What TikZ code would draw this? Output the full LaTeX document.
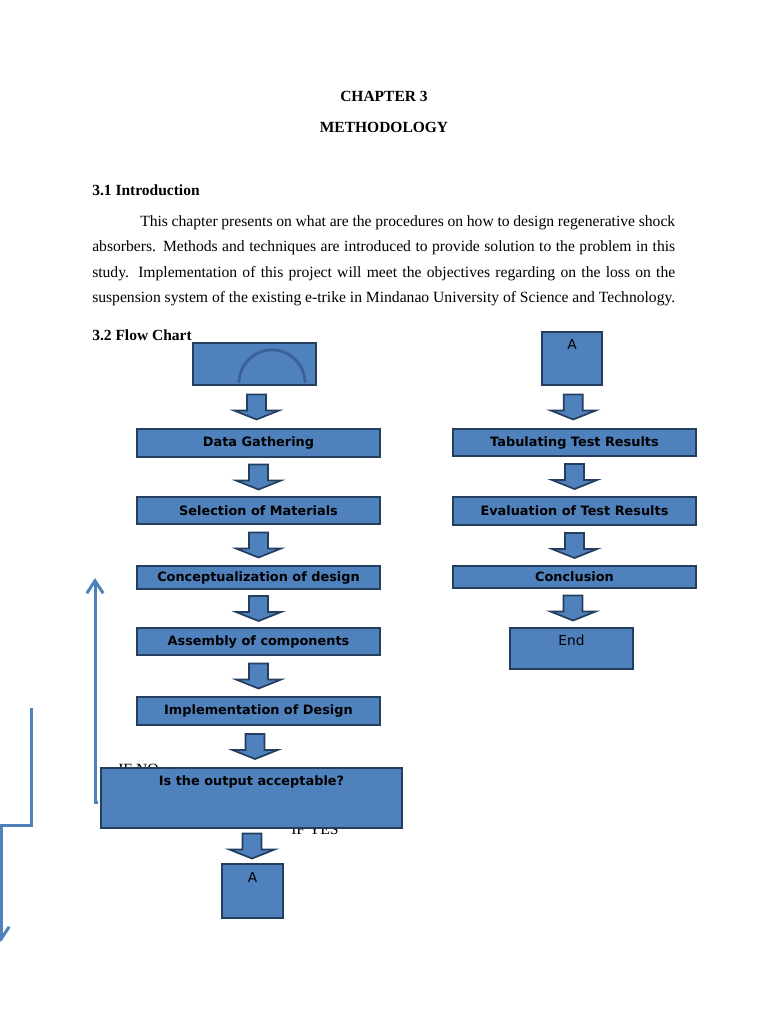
\documentclass[tikz,border=0pt]{standalone}
\usepackage{fontspec}
\setmainfont{Liberation Serif}
\newfontfamily\boxfont{DejaVu Sans}
\usetikzlibrary{calc,arrows.meta}

\definecolor{boxblue}{RGB}{79,129,189}
\definecolor{boxedge}{RGB}{36,62,96}
\definecolor{arcblue}{RGB}{58,96,150}
\definecolor{loopblue}{RGB}{79,129,189}

\tikzset{
  procbox/.style={draw=boxedge, fill=boxblue, line width=1.6pt, inner sep=0pt,
    font=\boxfont\bfseries\fontsize{10.3}{12}\selectfont, text=black},
  toptext/.style={font=\boxfont\fontsize{11}{13}\selectfont, inner sep=0pt, text=black},
  arrowbox/.style={draw=boxedge, fill=boxblue, line width=1.4pt, line join=miter},
  loopline/.style={draw=loopblue, line width=2.4pt},
  heading/.style={font=\bfseries\fontsize{12.4}{14}\selectfont, inner sep=0pt},
  bodytext/.style={font=\fontsize{12.5}{14}\selectfont, inner sep=0pt},
}

% block arrow half way between two anchors
\newcommand{\blockarrow}[2]{%
  \coordinate (mid) at ($(#1)!0.5!(#2)$);
  \draw[arrowbox] ($(mid)+(-9.5,-12.5)$) -- ($(mid)+(9.5,-12.5)$) -- ($(mid)+(9.5,3.5)$)
    -- ($(mid)+(22.5,3.5)$) -- ($(mid)+(0,12.5)$) -- ($(mid)+(-22.5,3.5)$)
    -- ($(mid)+(-9.5,3.5)$) -- cycle;
}

\begin{document}
\begin{tikzpicture}[x=0.8pt,y=-0.8pt]
  \useasboundingbox[fill=white] (0,0) rectangle (768,1024);

  % page text
  \node[heading, anchor=base] (chap) at (384,102) {CHAPTER 3};
  \node[heading, anchor=base] (meth) at (384,133) {METHODOLOGY};
  \node[heading, anchor=base west] (intro) at (92,196) {3.1 Introduction};
  \node[bodytext, anchor=north west, text width=466.4pt, align=justify] (para) at (92,215.5)
    {\baselineskip=20.25pt\parfillskip=0pt
     \hspace*{38.4pt}This chapter presents on what are the procedures on how to design regenerative shock\linebreak
     absorbers. Methods and techniques are introduced to provide solution to the problem in this\linebreak
     study. Implementation of this project will meet the objectives regarding on the loss on the\linebreak
     suspension system of the existing e-trike in Mindanao University of Science and Technology.\par};
  \node[heading, anchor=base west] (flow) at (92,340) {3.2 Flow Chart};

  % half hidden labels
  \node[bodytext, anchor=base west] (ifno) at (118,774) {IF NO};
  \node[bodytext, anchor=base west] (ifyes) at (291,834) {IF YES};

  % left column
  \node[procbox, minimum width=98.4pt, minimum height=33.6pt] (start) at (254.5,364) {};
  \draw[arcblue, line width=2.2pt] ($(start.south)+(-15.5,-3)$) arc[start angle=180, end angle=360, radius=33];
  \node[procbox, minimum width=194.4pt, minimum height=22.4pt] (dg) at (258.5,443) {Data Gathering};
  \node[procbox, minimum width=194.4pt, minimum height=21.6pt] (sm) at (258.5,510.5) {Selection of Materials};
  \node[procbox, minimum width=194.4pt, minimum height=18.4pt] (cd) at (258.5,577.5) {Conceptualization of design};
  \node[procbox, minimum width=194.4pt, minimum height=21.6pt] (ac) at (258.5,641.5) {Assembly of components};
  \node[procbox, minimum width=194.4pt, minimum height=22.4pt] (id) at (258.5,711) {Implementation of Design};
  \node[procbox, minimum width=240.8pt, minimum height=48pt] (dec) at (251.5,798) {};
  \node[procbox, draw=none, fill=none, anchor=north, yshift=-6.5pt] (dect) at (dec.north) {Is the output acceptable?};
  \node[procbox, minimum width=48.8pt, minimum height=43.2pt] (al) at (252.5,891) {};
  \node[toptext, anchor=north, yshift=-7pt] (alt) at (al.north) {A};

  \blockarrow{start.south}{dg.north}
  \blockarrow{dg.south}{sm.north}
  \blockarrow{sm.south}{cd.north}
  \blockarrow{cd.south}{ac.north}
  \blockarrow{ac.south}{id.north}
  \blockarrow{id.south}{dec.north}
  \blockarrow{dec.south}{al.north}

  % right column
  \node[procbox, minimum width=48pt, minimum height=42.4pt] (ar) at (572,358.5) {};
  \node[toptext, anchor=north, yshift=-6.5pt] (art) at (ar.north) {A};
  \node[procbox, minimum width=194.4pt, minimum height=21.6pt] (tr) at (574.5,442.5) {Tabulating Test Results};
  \node[procbox, minimum width=194.4pt, minimum height=22.4pt] (ev) at (574.5,511) {Evaluation of Test Results};
  \node[procbox, minimum width=194.4pt, minimum height=17.6pt] (co) at (574.5,577) {Conclusion};
  \node[procbox, minimum width=98.4pt, minimum height=32.8pt] (en) at (571.5,648.5) {};
  \node[toptext, anchor=north, yshift=-6.5pt] (ent) at (en.north) {End};

  \blockarrow{ar.south}{tr.north}
  \blockarrow{tr.south}{ev.north}
  \blockarrow{ev.south}{co.north}
  \blockarrow{co.south}{en.north}

  % loop lines
  \coordinate (noTop) at (95,578);
  \coordinate (noBot) at (95,802);
  \coordinate (noEnd) at (98,802);
  \draw[loopline, -{Straight Barb[length=10pt, width=13pt]}] (noEnd) -- (noBot) -- (noTop);
  \coordinate (backTop) at (31,708);
  \coordinate (backBend) at (31,825);
  \coordinate (backCorner) at (1,825);
  \coordinate (backEnd) at (1,942);
  \draw[loopline, -{Straight Barb[length=10pt, width=13pt]}] (backTop) -- (backBend) -- (backCorner) -- (backEnd);
\end{tikzpicture}
\end{document}
